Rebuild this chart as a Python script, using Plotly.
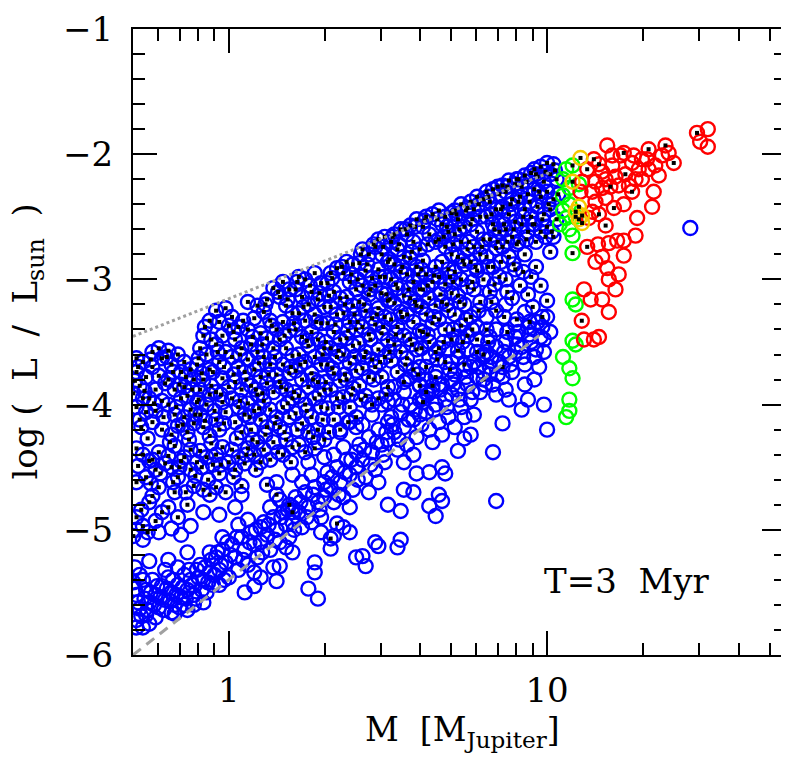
import numpy as np
import plotly.graph_objects as go

# (log10 M/M_Jup , log L/L_sun), T = 3 Myr
blue_dotted = [
    (-0.29,-3.63),(-0.27,-3.66),(-0.29,-3.74),(-0.26,-3.78),(-0.28,-3.85),(-0.30,-3.91),(-0.27,-3.95),(-0.29,-4.02),
    (-0.26,-4.06),(-0.28,-4.12),(-0.29,-4.35),(-0.27,-4.40),(-0.25,-4.45),(-0.29,-4.62),(-0.26,-4.58),(-0.29,-4.90),
    (-0.27,-4.97),(-0.30,-5.05),(-0.25,-4.78),
    (-0.24,-3.58),(-0.22,-3.55),(-0.21,-3.63),(-0.24,-3.70),(-0.22,-3.77),(-0.20,-3.83),(-0.23,-3.88),(-0.25,-3.95),
    (-0.21,-3.97),(-0.23,-4.05),(-0.24,-4.14),(-0.21,-4.20),(-0.22,-4.38),(-0.24,-4.44),(-0.20,-4.47),(-0.23,-4.52),
    (-0.22,-4.66),(-0.24,-4.73),(-0.21,-4.86),(-0.23,-4.93),
    (-0.19,-3.57),(-0.16,-3.60),(-0.18,-3.68),(-0.15,-3.74),(-0.19,-3.80),(-0.17,-3.88),(-0.15,-3.95),(-0.19,-4.00),
    (-0.17,-4.08),(-0.16,-4.17),(-0.18,-4.24),(-0.17,-4.33),(-0.19,-4.41),(-0.15,-4.45),(-0.18,-4.50),(-0.16,-4.58),
    (-0.17,-4.70),(-0.19,-4.82),(-0.16,-4.90),
    (-0.14,-3.66),(-0.12,-3.72),(-0.11,-3.80),(-0.14,-3.86),(-0.13,-3.93),(-0.10,-3.98),(-0.12,-4.04),(-0.14,-4.10),
    (-0.11,-4.15),(-0.13,-4.22),(-0.12,-4.36),(-0.14,-4.42),(-0.10,-4.46),(-0.12,-4.52),(-0.13,-4.80),(-0.11,-4.65),
    (-0.06,-3.33),(-0.08,-3.45),(-0.09,-3.55),(-0.07,-3.60),(-0.10,-3.68),(-0.06,-3.72),(-0.08,-3.80),(-0.09,-3.88),
    (-0.06,-3.92),(-0.07,-4.00),(-0.09,-4.08),(-0.08,-4.18),(-0.06,-4.25),(-0.09,-4.37),(-0.07,-4.42),(-0.05,-4.48),
    (-0.08,-4.68),(-0.06,-4.72),
    (-0.04,-3.25),(-0.01,-3.23),(-0.03,-3.34),(0.00,-3.37),(-0.02,-3.45),(-0.04,-3.52),(-0.01,-3.58),(-0.03,-3.66),
    (-0.05,-3.74),(-0.02,-3.79),(0.00,-3.86),(-0.04,-3.90),(-0.02,-3.98),(-0.01,-4.06),(-0.04,-4.12),(-0.03,-4.20),
    (-0.02,-4.34),(-0.04,-4.40),(0.00,-4.46),(-0.03,-4.55),(-0.04,-4.66),(-0.01,-4.70),
    (0.01,-3.30),(0.03,-3.38),(0.02,-3.48),(0.04,-3.55),(0.01,-3.62),(0.03,-3.70),(0.05,-3.74),(0.02,-3.82),
    (0.04,-3.88),(0.01,-3.95),(0.03,-4.02),(0.05,-4.08),(0.02,-4.14),(0.04,-4.22),(0.01,-4.36),(0.03,-4.42),
    (0.05,-4.47),(0.02,-4.52),(0.04,-4.65),
    (0.06,-3.18),(0.09,-3.21),(0.08,-3.31),(0.06,-3.40),(0.10,-3.43),(0.07,-3.52),(0.09,-3.58),(0.06,-3.64),
    (0.08,-3.72),(0.10,-3.78),(0.07,-3.85),(0.09,-3.92),(0.06,-3.99),(0.08,-4.05),(0.10,-4.12),(0.07,-4.20),
    (0.09,-4.30),(0.06,-4.35),(0.08,-4.40),(0.10,-4.46),
    (0.12,-3.16),(0.14,-3.07),(0.11,-3.26),(0.13,-3.33),(0.15,-3.40),(0.12,-3.47),(0.14,-3.55),(0.11,-3.62),
    (0.13,-3.68),(0.15,-3.76),(0.12,-3.83),(0.14,-3.90),(0.11,-3.97),(0.13,-4.04),(0.15,-4.10),(0.12,-4.18),
    (0.14,-4.30),(0.11,-4.36),(0.13,-4.44),
    (0.17,-3.02),(0.19,-3.08),(0.16,-3.14),(0.18,-3.21),(0.20,-3.27),(0.17,-3.34),(0.19,-3.41),(0.16,-3.48),
    (0.18,-3.55),(0.20,-3.61),(0.17,-3.68),(0.19,-3.75),(0.16,-3.82),(0.18,-3.88),(0.20,-3.95),(0.17,-4.02),
    (0.19,-4.10),(0.16,-4.18),(0.18,-4.28),(0.20,-4.34),(0.17,-4.40),
    (0.22,-2.98),(0.24,-3.00),(0.21,-3.08),(0.23,-3.14),(0.25,-3.20),(0.22,-3.27),(0.24,-3.33),(0.21,-3.40),
    (0.23,-3.46),(0.25,-3.53),(0.22,-3.60),(0.24,-3.66),(0.21,-3.73),(0.23,-3.80),(0.25,-3.86),(0.22,-3.93),
    (0.24,-4.00),(0.21,-4.07),(0.23,-4.15),(0.25,-4.22),(0.22,-4.32),(0.24,-4.38),
    (0.27,-2.95),(0.29,-3.03),(0.26,-3.10),(0.28,-3.16),(0.30,-3.22),(0.27,-3.28),(0.29,-3.35),(0.26,-3.42),
    (0.28,-3.48),(0.30,-3.55),(0.27,-3.62),(0.29,-3.68),(0.26,-3.75),(0.28,-3.82),(0.30,-3.88),(0.27,-3.95),
    (0.29,-4.02),(0.26,-4.10),(0.28,-4.20),(0.30,-4.28),(0.27,-4.35),
    (0.32,-2.95),(0.34,-2.91),(0.31,-3.03),(0.33,-3.10),(0.35,-3.15),(0.32,-3.22),(0.34,-3.28),(0.31,-3.35),
    (0.33,-3.42),(0.35,-3.48),(0.32,-3.55),(0.34,-3.62),(0.31,-3.68),(0.33,-3.75),(0.35,-3.81),(0.32,-3.88),
    (0.34,-3.95),(0.31,-4.03),(0.33,-4.12),(0.35,-4.20),
    (0.37,-2.86),(0.39,-2.88),(0.36,-2.95),(0.38,-3.02),(0.40,-3.08),(0.37,-3.14),(0.39,-3.21),(0.36,-3.27),
    (0.38,-3.34),(0.40,-3.40),(0.37,-3.47),(0.39,-3.53),(0.36,-3.60),(0.38,-3.67),(0.40,-3.73),(0.37,-3.80),
    (0.39,-3.87),(0.36,-3.94),(0.38,-4.02),(0.40,-4.10),
    (0.42,-2.76),(0.44,-2.80),(0.41,-2.87),(0.43,-2.93),(0.45,-2.99),(0.42,-3.05),(0.44,-3.12),(0.41,-3.18),
    (0.43,-3.25),(0.45,-3.31),(0.42,-3.38),(0.44,-3.44),(0.41,-3.51),(0.43,-3.58),(0.45,-3.64),(0.42,-3.71),
    (0.44,-3.78),(0.41,-3.85),(0.43,-3.93),(0.45,-4.00),
    (0.47,-2.68),(0.49,-2.66),(0.46,-2.74),(0.48,-2.80),(0.50,-2.86),(0.47,-2.92),(0.49,-2.98),(0.46,-3.05),
    (0.48,-3.11),(0.50,-3.17),(0.47,-3.23),(0.49,-3.30),(0.46,-3.36),(0.48,-3.43),(0.50,-3.49),(0.47,-3.56),
    (0.49,-3.62),(0.46,-3.70),(0.48,-3.78),(0.50,-3.86),(0.47,-3.95),
    (0.52,-2.64),(0.54,-2.60),(0.51,-2.70),(0.53,-2.76),(0.55,-2.82),(0.52,-2.88),(0.54,-2.94),(0.51,-3.00),
    (0.53,-3.07),(0.55,-3.13),(0.52,-3.19),(0.54,-3.26),(0.51,-3.32),(0.53,-3.38),(0.55,-3.45),(0.52,-3.52),
    (0.54,-3.58),(0.51,-3.65),(0.53,-3.74),(0.55,-3.82),
    (0.57,-2.57),(0.59,-2.52),(0.56,-2.64),(0.58,-2.70),(0.60,-2.76),(0.57,-2.83),(0.59,-2.90),(0.56,-2.96),
    (0.58,-3.02),(0.60,-3.08),(0.57,-3.15),(0.59,-3.21),(0.56,-3.28),(0.58,-3.34),(0.60,-3.41),(0.57,-3.48),
    (0.59,-3.56),(0.56,-3.63),(0.58,-3.72),(0.60,-3.85),
    (0.62,-2.50),(0.64,-2.48),(0.61,-2.58),(0.63,-2.64),(0.65,-2.70),(0.61,-2.85),(0.65,-2.90),(0.62,-2.96),
    (0.64,-3.02),(0.61,-3.08),(0.63,-3.15),(0.65,-3.21),(0.62,-3.28),(0.64,-3.35),(0.61,-3.42),(0.63,-3.50),
    (0.65,-3.58),(0.62,-3.70),(0.64,-3.85),(0.61,-3.98),
    (0.66,-2.45),(0.68,-2.50),(0.70,-2.47),(0.67,-2.56),(0.69,-2.62),(0.66,-2.68),(0.68,-2.74),(0.70,-2.80),
    (0.67,-2.86),(0.69,-2.92),(0.66,-2.98),(0.68,-3.04),(0.70,-3.11),(0.67,-3.18),(0.69,-3.25),(0.66,-3.32),
    (0.68,-3.40),(0.70,-3.48),(0.66,-3.55),(0.68,-3.66),(0.65,-3.78),(0.62,-3.90),
    (0.71,-2.45),(0.73,-2.40),(0.75,-2.43),(0.72,-2.52),(0.74,-2.58),(0.71,-2.64),(0.73,-2.70),(0.75,-2.76),
    (0.72,-2.82),(0.74,-2.88),(0.71,-2.94),(0.73,-3.00),(0.75,-3.06),(0.72,-3.13),(0.74,-3.20),(0.71,-3.28),
    (0.73,-3.37),(0.75,-3.45),(0.72,-3.57),(0.74,-3.68),
    (0.76,-2.38),(0.78,-2.34),(0.80,-2.36),(0.77,-2.44),(0.79,-2.50),(0.76,-2.56),(0.78,-2.62),(0.80,-2.68),
    (0.77,-2.74),(0.79,-2.80),(0.76,-2.86),(0.78,-2.93),(0.80,-3.00),(0.77,-3.08),(0.79,-3.18),(0.76,-3.30),
    (0.78,-3.48),(0.80,-3.60),
    (0.81,-2.30),(0.83,-2.28),(0.85,-2.32),(0.82,-2.38),(0.84,-2.44),(0.81,-2.50),(0.83,-2.56),(0.85,-2.62),
    (0.82,-2.68),(0.84,-2.75),(0.81,-2.82),(0.83,-2.90),(0.85,-2.98),(0.82,-3.10),(0.84,-3.25),(0.81,-3.40),
    (0.86,-2.25),(0.88,-2.21),(0.90,-2.24),(0.87,-2.30),(0.89,-2.36),(0.86,-2.42),(0.88,-2.48),(0.90,-2.54),
    (0.87,-2.60),(0.89,-2.66),(0.86,-2.74),(0.88,-2.82),(0.90,-2.92),(0.87,-3.00),(0.89,-3.15),
    (0.91,-2.20),(0.93,-2.17),(0.95,-2.15),(0.92,-2.26),(0.94,-2.32),(0.91,-2.38),(0.93,-2.44),(0.95,-2.50),
    (0.92,-2.56),(0.94,-2.62),(0.91,-2.70),(0.93,-2.80),(0.95,-2.98),(0.94,-3.12),
    (0.96,-2.12),(0.98,-2.10),(1.00,-2.07),(1.02,-2.08),(0.97,-2.18),(0.99,-2.22),(1.01,-2.16),(1.03,-2.20),
    (0.96,-2.28),(0.98,-2.34),(1.00,-2.30),(1.02,-2.36),(0.97,-2.42),(0.99,-2.48),(1.01,-2.44),(1.03,-2.52),
    (0.96,-2.56),(0.98,-2.62),(1.00,-2.58),(1.02,-2.66),(1.01,-2.78),(1.00,-3.17),(0.98,-3.05),
    (0.12,-4.64),(0.15,-4.72),(0.19,-4.80),(0.20,-4.86),(0.32,-5.07),(0.34,-4.95),(0.80,-3.80),(0.86,-3.70),
    (0.78,-3.58),
]

# second pass over the same cloud: rings lying between the ones above
blue_dotted_fill = [
    (-0.285,-3.70),(-0.295,-3.81),(-0.265,-3.89),(-0.245,-3.64),(-0.235,-3.99),(-0.275,-4.18),(-0.205,-4.10),
    (-0.255,-4.27),(-0.215,-4.55),(-0.285,-4.49),(-0.245,-4.63),(-0.275,-4.84),(-0.255,-5.02),
    (-0.195,-3.62),(-0.175,-3.74),(-0.155,-3.84),(-0.135,-3.78),(-0.115,-3.88),(-0.165,-4.02),(-0.145,-4.16),
    (-0.105,-4.08),(-0.185,-4.30),(-0.125,-4.28),(-0.155,-4.50),(-0.105,-4.57),(-0.175,-4.62),(-0.135,-4.70),
    (-0.075,-3.38),(-0.055,-3.48),(-0.095,-3.63),(-0.035,-3.58),(-0.085,-3.75),(-0.015,-3.70),(-0.055,-3.85),
    (-0.025,-3.92),(-0.095,-3.96),(-0.045,-4.05),(-0.075,-4.13),(-0.015,-4.15),(-0.055,-4.31),(-0.085,-4.50),
    (-0.025,-4.48),(-0.065,-4.60),
    (0.015,-3.42),(0.045,-3.33),(0.075,-3.46),(0.035,-3.60),(0.095,-3.67),(0.055,-3.80),(0.015,-3.76),
    (0.085,-3.88),(0.035,-3.97),(0.065,-4.10),(0.095,-4.03),(0.025,-4.27),(0.075,-4.28),(0.055,-4.40),
    (0.085,-4.52),(0.015,-4.58),
    (0.115,-3.20),(0.155,-3.10),(0.185,-3.16),(0.135,-3.37),(0.175,-3.45),(0.105,-3.52),(0.145,-3.62),
    (0.195,-3.70),(0.125,-3.76),(0.165,-3.86),(0.105,-3.91),(0.185,-3.99),(0.145,-4.15),(0.115,-4.24),
    (0.175,-4.22),(0.155,-4.38),(0.195,-4.46),
    (0.215,-3.02),(0.255,-3.05),(0.285,-3.11),(0.235,-3.22),(0.275,-3.34),(0.205,-3.35),(0.245,-3.49),
    (0.295,-3.60),(0.225,-3.68),(0.265,-3.80),(0.205,-3.90),(0.285,-3.92),(0.245,-4.05),(0.215,-4.20),
    (0.265,-4.26),(0.295,-4.12),
    (0.325,-2.99),(0.355,-2.90),(0.385,-2.96),(0.315,-3.13),(0.365,-3.20),(0.395,-3.28),(0.335,-3.36),
    (0.375,-3.41),(0.305,-3.50),(0.345,-3.57),(0.395,-3.62),(0.325,-3.71),(0.365,-3.76),(0.305,-3.82),
    (0.385,-3.92),(0.345,-4.02),(0.375,-4.14),(0.315,-4.22),
    (0.415,-2.80),(0.455,-2.72),(0.485,-2.74),(0.435,-2.88),(0.475,-2.98),(0.405,-3.00),(0.445,-3.08),
    (0.495,-3.12),(0.425,-3.20),(0.465,-3.28),(0.405,-3.34),(0.485,-3.38),(0.445,-3.48),(0.425,-3.62),
    (0.475,-3.66),(0.455,-3.80),(0.495,-3.92),(0.415,-3.96),
    (0.515,-2.66),(0.555,-2.60),(0.585,-2.58),(0.535,-2.72),(0.575,-2.78),(0.505,-2.84),(0.545,-2.90),
    (0.595,-2.96),(0.525,-3.04),(0.565,-3.08),(0.505,-3.16),(0.585,-3.18),(0.545,-3.30),(0.525,-3.44),
    (0.575,-3.52),(0.505,-3.58),(0.555,-3.68),(0.595,-3.76),
    (0.615,-2.53),(0.655,-2.52),(0.685,-2.58),(0.625,-2.72),(0.675,-2.66),(0.605,-2.92),(0.645,-2.97),
    (0.695,-2.98),(0.625,-3.05),(0.665,-3.12),(0.605,-3.22),(0.685,-3.20),(0.645,-3.30),(0.625,-3.44),
    (0.675,-3.50),(0.605,-3.55),(0.655,-3.64),(0.695,-3.72),
    (0.715,-2.48),(0.745,-2.45),(0.785,-2.40),(0.725,-2.60),(0.765,-2.52),(0.705,-2.72),(0.755,-2.70),
    (0.795,-2.74),(0.735,-2.85),(0.775,-2.90),(0.705,-3.02),(0.765,-3.02),(0.725,-3.18),(0.785,-3.25),
    (0.745,-3.32),(0.705,-3.40),(0.765,-3.40),(0.735,-3.50),
    (0.815,-2.34),(0.845,-2.26),(0.875,-2.26),(0.905,-2.20),(0.935,-2.22),(0.965,-2.16),(0.995,-2.14),
    (1.025,-2.13),(0.825,-2.48),(0.855,-2.44),(0.885,-2.40),(0.915,-2.34),(0.945,-2.38),(0.975,-2.30),
    (1.005,-2.40),(1.035,-2.32),(0.835,-2.60),(0.865,-2.56),(0.895,-2.60),(0.925,-2.50),(0.955,-2.56),
    (0.985,-2.52),(1.015,-2.62),(0.845,-2.70),(0.875,-2.70),(0.905,-2.72),(0.935,-2.68),(0.965,-2.70),
    (0.995,-2.66),(0.815,-2.90),(0.855,-2.86),(0.895,-2.88),(0.925,-2.94),(0.965,-2.90),(0.835,-3.04),
    (0.875,-3.10),(0.915,-3.05),(0.955,-3.22),(0.825,-3.18),(0.865,-3.30),(0.905,-3.32),(0.815,-3.50),
    (0.875,-3.42),(0.945,-3.34),(0.985,-3.30),
]

blue_plain = [
    (-0.30,-5.42),(-0.29,-5.52),(-0.28,-5.63),(-0.29,-5.72),(-0.27,-5.78),(-0.26,-5.48),(-0.25,-5.58),(-0.26,-5.68),
    (-0.24,-5.40),(-0.23,-5.52),(-0.22,-5.62),(-0.23,-5.70),(-0.21,-5.45),(-0.20,-5.56),(-0.28,-5.36),(-0.25,-5.75),
    (-0.19,-5.38),(-0.18,-5.50),(-0.17,-5.60),(-0.18,-5.66),(-0.16,-5.44),(-0.15,-5.54),(-0.14,-5.36),(-0.13,-5.48),
    (-0.14,-5.60),(-0.12,-5.40),(-0.11,-5.52),(-0.10,-5.32),(-0.11,-5.60),(-0.16,-5.30),
    (-0.09,-5.28),(-0.08,-5.40),(-0.07,-5.50),(-0.08,-5.58),(-0.06,-5.34),(-0.05,-5.44),(-0.04,-5.22),(-0.03,-5.32),
    (-0.03,-5.44),(-0.02,-5.16),(-0.01,-5.26),(0.00,-5.38),(-0.06,-5.18),(-0.02,-5.06),
    (0.01,-5.12),(0.02,-5.22),(0.03,-5.32),(0.04,-5.06),(0.05,-5.16),(0.06,-5.28),(0.07,-5.02),(0.08,-5.12),
    (0.09,-5.22),(0.10,-4.98),(0.10,-5.10),(0.03,-4.96),(0.06,-4.92),(0.08,-5.34),
    (0.11,-4.94),(0.12,-5.04),(0.13,-5.16),(0.14,-4.90),(0.15,-5.00),(0.16,-5.10),(0.17,-4.86),(0.18,-4.96),
    (0.19,-5.06),(0.20,-4.82),(0.20,-4.94),(0.13,-4.82),(0.16,-4.76),(0.18,-5.14),
    (0.21,-4.74),(0.22,-4.86),(0.23,-4.98),(0.24,-4.70),(0.25,-4.82),(0.26,-4.94),(0.27,-4.66),(0.28,-4.78),
    (0.29,-4.90),(0.30,-4.62),(0.30,-4.74),(0.23,-4.62),(0.26,-4.56),(0.29,-5.02),
    (0.31,-4.54),(0.32,-4.66),(0.33,-4.78),(0.34,-4.50),(0.35,-4.62),(0.36,-4.74),(0.37,-4.44),(0.38,-4.56),
    (0.39,-4.68),(0.40,-4.38),(0.40,-4.50),(0.33,-4.40),(0.36,-4.34),(0.38,-4.82),
    (0.41,-4.32),(0.42,-4.44),(0.43,-4.58),(0.44,-4.26),(0.45,-4.38),(0.46,-4.52),(0.47,-4.20),(0.48,-4.32),
    (0.49,-4.46),(0.50,-4.14),(0.50,-4.28),(0.44,-4.70),(0.47,-4.62),(0.42,-4.16),
    (0.51,-4.10),(0.52,-4.22),(0.53,-4.36),(0.54,-4.06),(0.55,-4.18),(0.56,-4.32),(0.57,-4.00),(0.58,-4.12),
    (0.59,-4.26),(0.60,-3.96),(0.60,-4.08),(0.55,-4.46),(0.58,-4.40),(0.52,-3.96),
    (0.61,-3.94),(0.62,-4.06),(0.63,-4.20),(0.64,-3.88),(0.65,-4.00),(0.66,-4.14),(0.67,-3.84),(0.68,-3.96),
    (0.69,-4.10),(0.70,-3.80),(0.70,-3.92),(0.64,-4.30),(0.67,-4.24),(0.62,-3.80),
    (0.71,-3.76),(0.72,-3.88),(0.73,-4.02),(0.74,-3.72),(0.75,-3.84),(0.76,-3.96),(0.77,-3.66),(0.78,-3.78),
    (0.79,-3.90),(0.80,-3.62),(0.80,-3.74),(0.74,-4.10),(0.77,-4.08),(0.72,-3.62),
    (0.81,-3.58),(0.82,-3.70),(0.83,-3.84),(0.84,-3.54),(0.85,-3.66),(0.86,-3.78),(0.87,-3.50),(0.88,-3.62),
    (0.89,-3.74),(0.90,-3.46),(0.90,-3.58),(0.84,-3.92),(0.87,-3.88),(0.82,-3.46),
    (0.91,-3.42),(0.92,-3.54),(0.93,-3.68),(0.94,-3.38),(0.95,-3.50),(0.96,-3.62),(0.97,-3.34),(0.98,-3.46),
    (0.99,-3.58),(1.00,-3.30),(0.96,-3.80),(0.93,-3.84),(1.01,-3.42),
    (-0.295,-5.47),(-0.285,-5.58),(-0.275,-5.69),(-0.265,-5.55),(-0.255,-5.64),(-0.245,-5.50),(-0.235,-5.60),
    (-0.225,-5.45),(-0.215,-5.54),(-0.205,-5.64),(-0.195,-5.47),(-0.185,-5.57),(-0.175,-5.40),(-0.165,-5.52),
    (-0.155,-5.62),(-0.145,-5.46),(-0.135,-5.55),(-0.125,-5.32),(-0.115,-5.44),(-0.105,-5.55),(-0.095,-5.38),
    (-0.085,-5.48),(-0.075,-5.30),(-0.065,-5.42),(-0.055,-5.24),(-0.045,-5.36),(-0.035,-5.18),(-0.025,-5.28),
    (-0.015,-5.40),(-0.005,-5.10),(-0.295,-5.30),(-0.29,-5.78),(-0.27,-5.40),(-0.20,-5.32),
    (0.005,-5.20),(0.025,-5.06),(0.045,-5.24),(0.065,-5.10),(0.085,-5.00),(0.105,-5.18),(0.125,-4.96),
    (0.145,-5.08),(0.165,-4.90),(0.185,-4.84),(0.205,-5.00),(0.225,-4.78),(0.245,-4.90),(0.265,-4.72),
    (0.285,-4.84),(0.305,-4.68),(0.325,-4.58),(0.345,-4.72),(0.365,-4.54),(0.385,-4.44),(0.405,-4.60),
    (0.425,-4.36),(0.445,-4.48),(0.465,-4.30),(0.485,-4.40),(0.495,-4.22),
    (0.515,-4.16),(0.535,-4.28),(0.545,-4.00),(0.565,-4.12),(0.585,-4.04),(0.605,-4.16),(0.625,-3.92),
    (0.645,-4.04),(0.665,-3.88),(0.685,-4.02),(0.705,-3.84),(0.725,-3.96),(0.745,-3.78),(0.765,-3.90),
    (0.785,-3.70),(0.805,-3.84),(0.825,-3.62),(0.845,-3.76),(0.865,-3.58),(0.885,-3.68),(0.905,-3.52),
    (0.925,-3.62),(0.945,-3.44),(0.965,-3.56),(0.985,-3.38),(0.975,-3.70),
    (0.52,-3.86),(0.56,-3.80),(0.60,-3.70),(0.63,-3.62),(0.66,-3.84),(0.69,-3.56),(0.72,-3.46),(0.75,-3.56),
    (0.78,-3.38),(0.81,-3.30),(0.84,-3.40),(0.87,-3.20),(0.90,-3.36),(0.93,-3.26),(0.96,-3.40),(0.99,-3.48),
    (0.76,-3.70),(0.82,-3.76),(0.88,-3.96),(0.92,-4.04),(0.71,-4.18),
    (-0.29,-5.00),(-0.27,-5.08),(-0.22,-5.02),(-0.18,-4.99),(-0.15,-5.04),(-0.12,-4.97),(-0.08,-4.86),(-0.03,-4.88),
    (0.02,-4.82),(0.04,-4.72),(-0.25,-5.25),(-0.19,-5.24),(-0.13,-5.18),
    (0.15,-4.62),(0.20,-4.56),(0.25,-4.46),(0.30,-4.42),(0.28,-4.30),(0.35,-4.22),(0.40,-4.18),(0.45,-4.08),
    (0.50,-3.98),(0.55,-3.90),(0.60,-3.84),(0.38,-4.14),(0.48,-4.00),(0.57,-3.78),(0.65,-3.74),(0.70,-3.66),
    (0.44,-3.98),
    (0.08,-5.45),(0.15,-5.41),(0.14,-5.30),(0.16,-5.29),(0.27,-5.26),(0.27,-5.34),(0.25,-5.47),(0.28,-5.55),
    (-0.17,-5.67),(-0.13,-5.64),(0.40,-5.22),(0.42,-5.21),(0.43,-5.29),(0.46,-5.10),(0.47,-5.13),(0.53,-5.14),
    (0.54,-4.85),(0.54,-5.08),(0.63,-4.81),(0.65,-4.89),(0.66,-4.72),(0.67,-4.77),(0.84,-4.77),(0.83,-4.38),
    (0.86,-4.15),(1.00,-4.20),(0.72,-4.37),(0.74,-4.27),(0.76,-4.24),(0.55,-4.68),(0.59,-4.55),(0.63,-4.54),
    (0.67,-4.50),(0.68,-4.55),(0.99,-4.00),(0.94,-3.96),(0.36,-4.98),(0.38,-5.02),(0.33,-5.05),(0.50,-4.80),
    (0.58,-4.70),(0.20,-5.18),(0.32,-5.15),(0.10,-5.38),(0.05,-5.50),
    (1.45,-2.59),
]

green_plain = [
    (1.06,-2.12),(1.05,-2.20),(1.07,-2.27),(1.05,-2.33),(1.07,-2.40),(1.05,-2.45),(1.06,-2.51),(1.04,-2.56),
    (1.07,-2.60),(1.08,-2.65),(1.08,-3.16),(1.09,-3.20),(1.08,-3.49),(1.09,-3.52),(1.05,-3.62),(1.07,-3.71),
    (1.08,-3.79),(1.07,-3.96),(1.07,-4.05),(1.06,-4.10),(1.10,-2.24),
]
green_dotted = [(1.08,-2.09),(1.08,-2.79),(1.09,-2.50)]

yellow_dotted = [(1.105,-2.03),(1.08,-2.22),(1.10,-2.42),(1.09,-2.46),(1.11,-2.49),(1.10,-2.52),(1.11,-2.55)]

red_plain = [
    (1.189,-1.93),(1.382,-1.99),(1.505,-1.80),(1.481,-1.90),(1.505,-1.94),(1.173,-2.14),(1.205,-2.09),(1.231,-2.01),
    (1.288,-2.12),(1.314,-2.04),(1.340,-2.09),(1.361,-2.01),(1.351,-2.17),(1.335,-2.30),(1.330,-2.42),(1.283,-2.51),
    (1.278,-2.65),(1.241,-2.69),(1.220,-2.69),(1.194,-2.71),(1.241,-2.81),(1.173,-2.82),(1.152,-2.86),(1.189,-2.91),
    (1.225,-2.96),(1.194,-3.00),(1.215,-3.08),(1.173,-3.16),(1.137,-3.16),(1.116,-3.08),(1.194,-3.26),(1.116,-3.48),
    (1.147,-3.48),(1.163,-3.46),(1.142,-2.46),(1.131,-2.51),(1.241,-2.40),(1.278,-2.20),(1.257,-2.25),(1.225,-2.25),
    (1.173,-2.27),(1.142,-2.30),(1.110,-2.22),(1.105,-2.30),(1.152,-2.22),(1.184,-2.20),(1.215,-2.18),(1.298,-2.20),
    (1.319,-2.12),(1.184,-2.35),(1.152,-2.38),(1.298,-2.04),(1.272,-2.01),(1.205,-2.01),(1.160,-2.72),(1.267,-2.07),
]
red_dotted = [
    (1.241,-1.99),(1.319,-1.96),(1.372,-1.93),(1.398,-2.07),(1.471,-1.83),(1.147,-2.04),(1.126,-2.12),(1.210,-2.43),
    (1.184,-2.57),(1.126,-2.74),(1.109,-3.33),(1.267,-2.30),(1.246,-2.16),(1.199,-2.26),(1.163,-2.48),(1.163,-2.08),
]

# reference relations drawn in grey (mass, log L)
upper_line = [(0.5, -3.455), (10.2, -2.146)]
lower_line = [(0.5, -6.0), (9.45, -3.447)]

x_ticks = [1, 10]
x_minor = [0.6, 0.7, 0.8, 0.9, 2, 3, 4, 5, 6, 7, 8, 9, 20, 30, 40, 50]


def unpack(pts):
    lm, ll = zip(*pts)
    return 10 ** np.array(lm), np.array(ll)


def rings(pts, color):
    m, l = unpack(pts)
    return go.Scatter(x=m, y=l, mode="markers", hoverinfo="skip",
                      marker=dict(symbol="circle-open", size=14, color=color,
                                  line=dict(width=2.4, color=color)))


fig = go.Figure()

all_blue_dotted = blue_dotted + blue_dotted_fill
fig.add_trace(rings(blue_plain + all_blue_dotted, "#0000ff"))
fig.add_trace(rings(green_plain + green_dotted, "#00ff00"))
fig.add_trace(rings(red_plain + red_dotted, "#ff0000"))
fig.add_trace(rings(yellow_dotted, "#f5c800"))

m, l = unpack(all_blue_dotted + green_dotted + red_dotted + yellow_dotted)
fig.add_trace(go.Scatter(x=m, y=l, mode="markers", hoverinfo="skip",
                         marker=dict(symbol="square", size=4, color="black")))

lm, ll = zip(*upper_line)
fig.add_trace(go.Scatter(x=lm, y=ll, mode="lines", line=dict(color="#a0a0a0", width=3, dash="3px,3px")))
lm, ll = zip(*lower_line)
fig.add_trace(go.Scatter(x=lm, y=ll, mode="lines", line=dict(color="#a0a0a0", width=3, dash="10px,7px")))

axis_style = dict(showline=True, linecolor="black", linewidth=2, mirror="ticks",
                  ticks="inside", ticklen=24, tickwidth=2, tickcolor="black",
                  showgrid=False, zeroline=False, ticklabeloverflow="allow")

fig.update_xaxes(type="log", range=[np.log10(0.5), 1.7507], tickvals=x_ticks,
                 ticktext=[str(v) for v in x_ticks], ticklabelstandoff=4,
                 minor=dict(tickvals=x_minor, ticks="inside", ticklen=12, tickwidth=2,
                            tickcolor="black", showgrid=False),
                 **axis_style)
fig.update_yaxes(range=[-6, -1], tick0=-6, dtick=1, ticklabelstandoff=11,
                 minor=dict(dtick=0.2, ticks="inside", ticklen=12, tickwidth=2,
                            tickcolor="black", showgrid=False),
                 **axis_style)

fig.add_annotation(text="T=3  Myr", xref="paper", yref="paper", x=0.756, y=0.118,
                   xanchor="center", yanchor="middle", showarrow=False, font=dict(size=34))
fig.add_annotation(text="M  [M<sub>Jupiter</sub>]", xref="paper", yref="paper",
                   x=0.504, y=-0.1215, xanchor="center", yanchor="middle",
                   showarrow=False, font=dict(size=33))
fig.add_annotation(text="log (  L  /  L<sub>sun</sub>  )", xref="paper", yref="paper",
                   x=-0.163, y=0.5, xanchor="center", yanchor="middle", textangle=-90,
                   showarrow=False, font=dict(size=34))

# the page body adds an 8px margin, so the figure is 8px smaller each way
fig.update_layout(width=781, height=750, margin=dict(l=125, r=1, t=5, b=103),
                  paper_bgcolor="white", plot_bgcolor="white", showlegend=False,
                  font=dict(family="DejaVu Serif", size=34, color="black"))

fig.write_html("out.html")
